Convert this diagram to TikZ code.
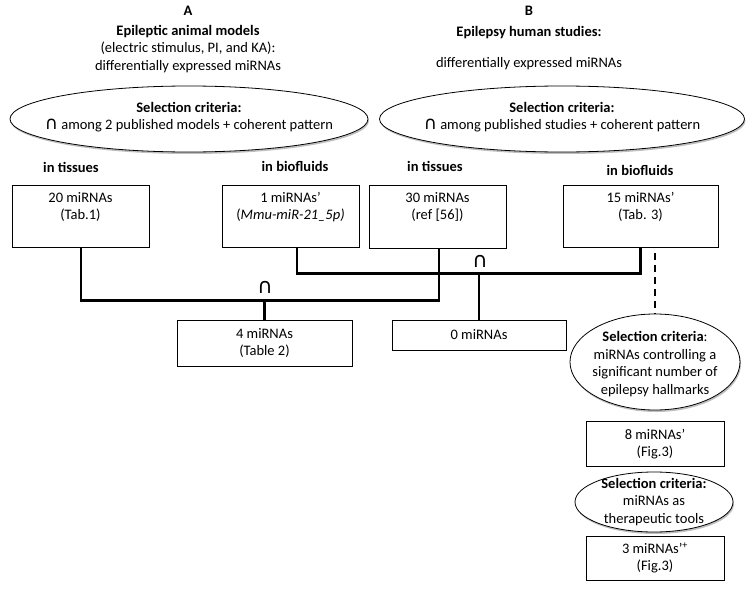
\documentclass[tikz,border=0pt]{standalone}
\usepackage{fontspec}
\setmainfont{Carlito}
\newfontfamily\symfont{DejaVu Sans}
\usetikzlibrary{shapes.geometric,shadows}
\begin{document}
\begin{tikzpicture}[x=1pt,y=-1pt,
  every node/.style={font=\fontsize{14.5}{17.5}\selectfont, inner sep=0pt},
  bold/.style={font=\fontsize{14.5}{17.5}\selectfont\bfseries},
  box/.style={draw, line width=0.8pt, rectangle},
  txt/.style={align=center},
  oval/.style={draw, line width=0.8pt, ellipse, fill=white,
    drop shadow={shadow xshift=1pt, shadow yshift=-2pt, fill=black!50, opacity=0.5}},
  conn/.style={line width=2.8pt, line join=miter},
  capsym/.style={font=\symfont\fontsize{21}{21}\selectfont}
]
\useasboundingbox (0,0) rectangle (750,605);
\newcommand{\bigcapsym}{{\symfont\fontsize{18}{17}\selectfont ∩}}

% headers
\node[bold] (hA) at (188,11) {A};
\node[txt] (tA) at (188,49) {\textbf{Epileptic animal models}\\(electric stimulus, PI, and KA):\\differentially expressed miRNAs};
\node[bold] (hB) at (529,11) {B};
\node[bold] (tB1) at (529,33) {Epilepsy human studies:};
\node (tB2) at (529,64) {differentially expressed miRNAs};

% selection ellipses
\node[oval, minimum width=358, minimum height=66] (e1) at (189,119) {};
\node[txt] (te1) at (189,117)
  {\textbf{Selection criteria:}\\\bigcapsym\ among 2 published models + coherent pattern};
\node[oval, minimum width=365, minimum height=66] (e2) at (562,119) {};
\node[txt] (te2) at (562,117)
  {\textbf{Selection criteria:}\\\bigcapsym\ among published studies + coherent pattern};

% column labels
\node[bold] (l1) at (71,167) {in tissues};
\node[bold] (l2) at (295,166) {in biofluids};
\node[bold] (l3) at (435,166) {in tissues};
\node[bold] (l4) at (640,170) {in biofluids};

% first-row boxes
\node[box, minimum width=137, minimum height=62] (b20) at (80.5,216) {};
\node[txt] (t20) at (80.5,207) {20 miRNAs\\(Tab.1)};
\node[box, minimum width=137, minimum height=62] (b1) at (290.5,216) {};
\node[txt] (t1) at (290.5,207) {1 miRNAs’\\(\textit{Mmu-miR-21\_5p)}};
\node[box, minimum width=137, minimum height=63] (b30) at (437.5,216.5) {};
\node[txt] (t30) at (437.5,207) {30 miRNAs\\(ref [56])};
\node[box, minimum width=155, minimum height=62] (b15) at (640.5,216) {};
\node[txt] (t15) at (640.5,207) {15 miRNAs’\\(Tab. 3)};

% result boxes
\node[box, minimum width=175, minimum height=46] (b4) at (264.5,343) {};
\node[txt] (t4) at (264.5,343) {4 miRNAs\\(Table 2)};
\node[box, minimum width=174, minimum height=30] (b0) at (479,335) {};
\node (t0) at (479,335) {0 miRNAs};

% intersections
\draw[conn] ([xshift=0.5]b20.south) -- ++(0,53) -| ([xshift=1.5]b30.south);
\node[capsym] (c1) at (265,287) {∩};
\draw[conn] (b4.north) -- ++(0,-20);
\draw[conn] ([xshift=6.5]b1.south) -- ++(0,26) -| (b15.south);
\node[capsym] (c2) at (480,261) {∩};
\draw[conn] (b0.north) -- ++(0,-47);

% right column
\node[oval, minimum width=170, minimum height=96] (e3) at (655,362) {};
\node[txt] (te3) at (655,364)
  {\textbf{Selection criteria}:\\miRNAs controlling a\\significant number of\\epilepsy hallmarks};
\coordinate (dtop) at (655,253);
\draw[conn, dash pattern=on 7pt off 5pt] (dtop) -- (e3.north);

\node[box, minimum width=138, minimum height=45] (b8) at (655,444) {};
\node[txt] (t8) at (655,444) {8 miRNAs’\\(Fig.3)};

\node[oval, minimum width=158, minimum height=60] (e4) at (654,502) {};
\node[txt] (te4) at (654,502)
  {\textbf{Selection criteria:}\\miRNAs as\\therapeutic tools};

\node[box, minimum width=138, minimum height=44] (b3) at (655,558) {};
\node[txt] (t3) at (655,558) {3 miRNAs’\textsuperscript{+}\\(Fig.3)};
\end{tikzpicture}
\end{document}
